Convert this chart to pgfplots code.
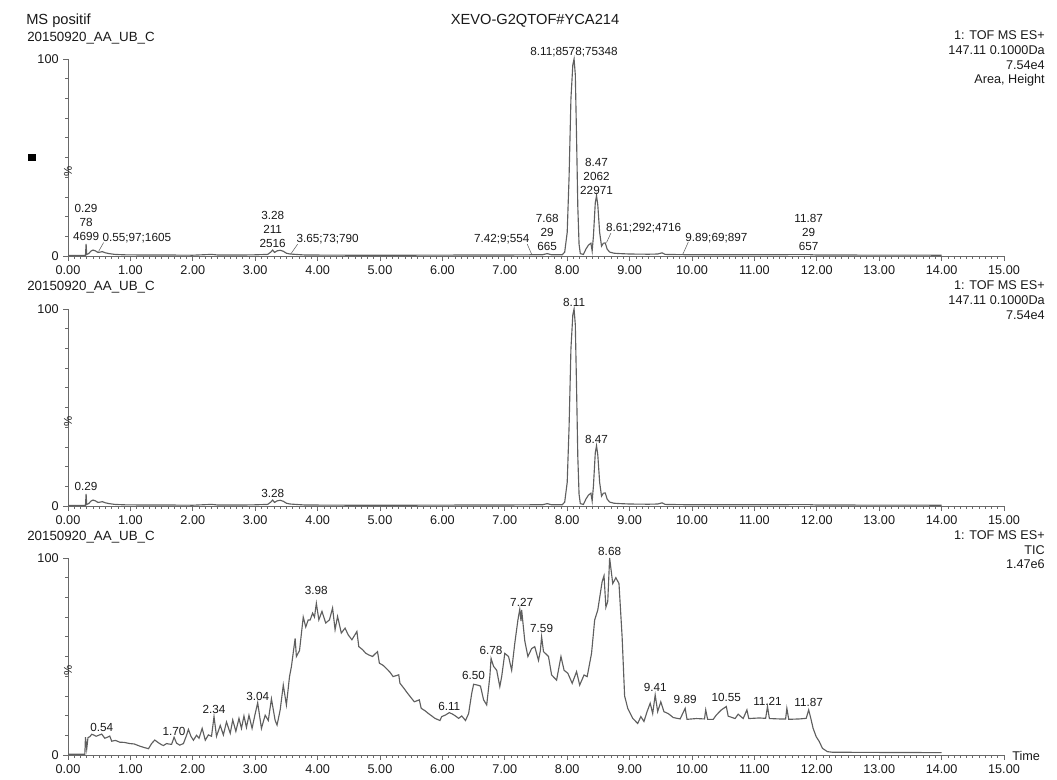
\documentclass[border=0pt]{standalone}
\usepackage{fontspec}
\setmainfont{Liberation Sans}
\usepackage{pgfplots}
\usepackage{pgfplotstable}
\pgfplotsset{compat=1.18}
\definecolor{trace}{RGB}{95,95,95}
\definecolor{axc}{RGB}{105,105,105}
\definecolor{txt}{RGB}{25,25,25}
\newcommand\pk{\fontsize{8.8}{10.5}\selectfont}
\newcommand\infofont{\fontsize{9.5}{11}\selectfont}

\pgfplotstableread{
x y
0.00 0.3
0.28 0.3
0.29 6.1
0.30 0.8
0.33 1.2
0.37 2.5
0.40 3.0
0.44 2.6
0.48 1.8
0.52 2.0
0.55 2.2
0.60 1.6
0.66 1.2
0.75 0.8
0.90 0.6
1.20 0.5
1.60 0.5
2.00 0.4
2.30 0.8
2.40 0.5
2.80 0.5
3.00 0.6
3.20 0.8
3.25 2.0
3.28 3.0
3.31 1.8
3.35 2.6
3.40 2.9
3.45 2.4
3.50 1.4
3.56 1.0
3.65 0.8
3.80 0.5
4.50 0.4
5.50 0.4
6.50 0.5
7.00 0.5
7.42 0.6
7.60 0.6
7.68 1.2
7.75 0.6
7.92 0.6
7.96 2
8.00 12
8.03 40
8.06 80
8.09 97
8.11 100
8.13 92
8.15 60
8.17 25
8.19 6
8.21 1.2
8.26 0.8
8.30 3.5
8.34 5.5
8.38 6.5
8.40 2.5
8.42 10
8.45 27
8.47 30.6
8.49 26
8.52 12
8.55 5
8.58 6.5
8.61 6.6
8.64 3.5
8.68 2
8.75 1.4
8.85 1.2
9.00 1.0
9.30 0.9
9.45 1.0
9.52 1.6
9.57 0.8
10.0 0.6
11.0 0.6
11.87 0.7
12.0 0.5
14.0 0.4
}\eic

\pgfplotstableread{
x y
0.00 0.4
0.27 0.4
0.28 9.0
0.30 3.0
0.32 8.8
0.35 9.3
0.38 10.5
0.41 10.2
0.45 9.5
0.49 10.0
0.54 10.6
0.59 8.5
0.63 9.0
0.67 9.6
0.70 7.0
0.76 7.4
0.83 6.5
0.90 6.4
0.99 5.8
1.06 5.6
1.15 4.5
1.22 3.8
1.29 3.2
1.34 5.8
1.39 7.6
1.45 6.2
1.50 5.2
1.53 4.8
1.58 5.8
1.61 5.6
1.66 5.4
1.70 9.0
1.74 6.0
1.79 5.0
1.85 5.8
1.90 10.0
1.93 13.0
1.97 9.5
2.01 7.5
2.06 10.0
2.10 8.5
2.15 13.5
2.20 7.5
2.25 10.2
2.30 9.5
2.34 19.5
2.38 9.5
2.44 15.0
2.49 10.2
2.54 16.8
2.60 11.0
2.64 17.8
2.69 12.0
2.74 18.6
2.78 13.5
2.82 19.8
2.86 14.0
2.90 20.2
2.95 13.5
3.00 21.0
3.04 26.5
3.10 13.5
3.16 20.2
3.21 17.5
3.26 28.5
3.32 17.5
3.35 15.2
3.40 22.8
3.45 35.5
3.50 25.4
3.55 39.8
3.58 44.8
3.64 59.2
3.66 50.0
3.71 53.0
3.77 70.0
3.81 65.0
3.85 68.6
3.88 68.5
3.92 72.0
3.95 70.0
3.98 77.0
4.02 68.6
4.07 72.9
4.13 67.0
4.19 68.6
4.24 74.6
4.28 63.6
4.32 70.3
4.38 61.9
4.44 64.4
4.49 61.0
4.55 58.5
4.63 62.7
4.66 55.0
4.72 53.5
4.77 51.7
4.82 50.8
4.88 50.0
4.96 52.5
4.99 46.6
5.05 45.5
5.10 44.0
5.16 42.0
5.21 39.8
5.30 40.7
5.32 36.4
5.38 34.0
5.44 31.4
5.50 29.0
5.55 27.0
5.63 28.0
5.66 23.7
5.72 22.5
5.77 21.2
5.83 19.8
5.88 18.6
5.96 17.5
5.99 19.5
6.05 20.3
6.11 21.5
6.16 20.8
6.21 19.8
6.26 18.6
6.31 19.8
6.37 17.5
6.42 21.0
6.47 31.3
6.50 35.9
6.56 35.5
6.61 35.0
6.66 28.0
6.71 25.4
6.76 39.8
6.78 49.0
6.82 45.0
6.87 43.0
6.92 34.7
6.95 39.8
7.00 51.6
7.06 50.0
7.11 43.0
7.16 56.7
7.21 68.5
7.24 74.0
7.26 68.0
7.27 73.6
7.32 58.0
7.37 50.0
7.43 54.0
7.48 55.0
7.54 48.0
7.57 53.0
7.59 60.0
7.62 52.5
7.70 50.0
7.75 40.6
7.83 38.0
7.90 50.0
7.95 43.0
8.01 41.5
8.08 36.4
8.15 42.3
8.20 35.5
8.27 40.6
8.32 39.8
8.39 51.6
8.44 68.5
8.49 73.6
8.56 88.0
8.59 91.0
8.62 75.0
8.65 78.0
8.68 100.0
8.73 87.0
8.78 90.0
8.83 87.0
8.88 60.0
8.92 30.0
8.97 23.7
9.05 18.6
9.13 16.0
9.18 19.5
9.23 17.0
9.28 22.0
9.33 26.3
9.37 21.0
9.41 30.5
9.45 22.0
9.50 27.0
9.55 22.0
9.62 21.0
9.70 19.0
9.81 18.3
9.89 23.7
9.92 18.1
10.07 18.5
10.20 18.3
10.22 22.9
10.25 18.1
10.34 18.1
10.39 20.3
10.47 22.9
10.55 24.6
10.58 19.7
10.69 18.5
10.74 20.7
10.82 18.5
10.88 22.9
10.91 18.5
11.08 18.8
11.18 18.6
11.21 24.6
11.24 18.5
11.40 18.3
11.50 18.3
11.52 23.7
11.55 18.1
11.72 18.3
11.83 18.6
11.87 22.9
11.91 17.8
11.94 13.6
11.99 9.3
12.04 6.8
12.09 3.4
12.17 1.7
12.25 1.4
13.00 1.3
14.00 1.2
}\tic

\pgfplotsset{chrom/.style={
  scale only axis, width=702pt, height=147.75pt,
  xmin=0, xmax=15, ymin=0, ymax=100,
  axis x line=bottom, axis y line=left,
  axis line style={-, axc, line width=0.6pt},
  xtick={0,1,...,15},
  xticklabels={0.00,1.00,2.00,3.00,4.00,5.00,6.00,7.00,8.00,9.00,10.00,11.00,12.00,13.00,14.00,15.00},
  minor x tick num=9,
  ytick={0,100}, yticklabels={0,100},
  minor y tick num=9,
  tick align=outside,
  major tick length=3.5pt, minor tick length=2pt,
  every tick/.style={axc, line width=0.5pt},
  ticklabel style={font=\fontsize{9.5}{10}\selectfont, text=txt},
  clip=false, anchor=south west,
}}

\begin{document}
\begin{tikzpicture}
\useasboundingbox (0,0) rectangle (792.75pt,585pt);
% header texts
\node[anchor=base west, font=\fontsize{11}{12}\selectfont, text=txt, inner sep=0pt] at (19.5pt,566.25pt) {MS positif};
\node[anchor=base, font=\fontsize{11}{12}\selectfont, text=txt, inner sep=0pt] at (401.25pt,566.25pt) {XEVO-G2QTOF\#YCA214};

% ---------- panel 1 ----------
\begin{axis}[chrom, at={(51pt,393pt)}]
\addplot[trace, line width=0.85pt] table[x=x,y=y] {\eic};
\node[rotate=90, font=\fontsize{8.5}{9}\selectfont, text=txt, xshift=-10.5pt] at (axis cs:0,50) {\%};
\node[fill=black, inner sep=0pt, minimum size=5.5pt, xshift=-27pt] at (axis cs:0,50) {};
\begin{scope}[every node/.style={text=txt, inner sep=0pt, font=\pk, align=center}]
\node[anchor=base] at (axis cs:8.11,102) {8.11;8578;75348};
\node[anchor=south] at (axis cs:0.29,7.6) {0.29\\78\\4699};
\node[anchor=base west] at (axis cs:0.55,7.6) {0.55;97;1605};
\node[anchor=south] at (axis cs:3.28,4.1) {3.28\\211\\2516};
\node[anchor=base west] at (axis cs:3.66,6.6) {3.65;73;790};
\node[anchor=base east] at (axis cs:7.40,6.6) {7.42;9;554};
\node[anchor=south] at (axis cs:7.68,2.5) {7.68\\29\\665};
\node[anchor=south] at (axis cs:8.47,31) {8.47\\2062\\22971};
\node[anchor=base west] at (axis cs:8.62,12.2) {8.61;292;4716};
\node[anchor=base west] at (axis cs:9.89,7.6) {9.89;69;897};
\node[anchor=south] at (axis cs:11.87,2.5) {11.87\\29\\657};
\end{scope}
\draw[trace, line width=0.4pt] (axis cs:0.49,2.3) -- (axis cs:0.57,6.8);
\draw[trace, line width=0.4pt] (axis cs:3.57,1.0) -- (axis cs:3.68,6.0);
\draw[trace, line width=0.4pt] (axis cs:7.36,6.0) -- (axis cs:7.43,0.9);
\draw[trace, line width=0.4pt] (axis cs:8.63,6.8) -- (axis cs:8.70,11.6);
\draw[trace, line width=0.4pt] (axis cs:9.85,0.7) -- (axis cs:9.94,7.0);
\end{axis}
\node[anchor=base west, font=\fontsize{10}{11}\selectfont, text=txt, inner sep=0pt] at (20.25pt,553.5pt) {20150920\_AA\_UB\_C};
\begin{scope}[every node/.style={anchor=base east, font=\infofont, text=txt, inner sep=0pt}]
\node at (783.75pt,555pt) {1: TOF MS ES+};
\node at (783.75pt,543.75pt) {147.11 0.1000Da};
\node at (783.75pt,532.875pt) {7.54e4};
\node at (783.75pt,522pt) {Area, Height};
\end{scope}

% ---------- panel 2 ----------
\begin{axis}[chrom, at={(51pt,205.5pt)}]
\addplot[trace, line width=0.85pt] table[x=x,y=y] {\eic};
\node[rotate=90, font=\fontsize{8.5}{9}\selectfont, text=txt, xshift=-10.5pt] at (axis cs:0,50) {\%};
\begin{scope}[every node/.style={text=txt, inner sep=0pt, font=\pk}]
\node[anchor=south] at (axis cs:0.29,7.6) {0.29};
\node[anchor=south] at (axis cs:3.28,4.0) {3.28};
\node[anchor=south] at (axis cs:8.11,101) {8.11};
\node[anchor=south] at (axis cs:8.47,31.3) {8.47};
\end{scope}
\end{axis}
\node[anchor=base west, font=\fontsize{10}{11}\selectfont, text=txt, inner sep=0pt] at (20.25pt,366.75pt) {20150920\_AA\_UB\_C};
\begin{scope}[every node/.style={anchor=base east, font=\infofont, text=txt, inner sep=0pt}]
\node at (783.75pt,367.5pt) {1: TOF MS ES+};
\node at (783.75pt,356.25pt) {147.11 0.1000Da};
\node at (783.75pt,345.375pt) {7.54e4};
\end{scope}

% ---------- panel 3 ----------
\begin{axis}[chrom, at={(51pt,18.75pt)}]
\addplot[trace, line width=0.85pt] table[x=x,y=y] {\tic};
\node[rotate=90, font=\fontsize{8.5}{9}\selectfont, text=txt, xshift=-10.5pt] at (axis cs:0,50) {\%};
\begin{scope}[every node/.style={text=txt, inner sep=0pt, font=\pk, anchor=south}]
\node at (axis cs:0.54,11.7) {0.54};
\node at (axis cs:1.70,9.6) {1.70};
\node at (axis cs:2.34,20.8) {2.34};
\node at (axis cs:3.04,27.4) {3.04};
\node at (axis cs:3.98,81.5) {3.98};
\node at (axis cs:6.11,22.3) {6.11};
\node at (axis cs:6.50,38) {6.50};
\node at (axis cs:6.78,50.8) {6.78};
\node at (axis cs:7.27,75) {7.27};
\node at (axis cs:7.59,62) {7.59};
\node at (axis cs:8.68,101) {8.68};
\node at (axis cs:9.41,32) {9.41};
\node at (axis cs:9.89,26) {9.89};
\node at (axis cs:10.55,27) {10.55};
\node at (axis cs:11.21,25) {11.21};
\node at (axis cs:11.87,24.4) {11.87};
\end{scope}
\end{axis}
\node[anchor=base west, font=\fontsize{10}{11}\selectfont, text=txt, inner sep=0pt] at (20.25pt,179.25pt) {20150920\_AA\_UB\_C};
\begin{scope}[every node/.style={anchor=base east, font=\infofont, text=txt, inner sep=0pt}]
\node at (783.75pt,180pt) {1: TOF MS ES+};
\node at (783.75pt,169.125pt) {TIC};
\node at (783.75pt,158.25pt) {1.47e6};
\end{scope}
\node[anchor=base west, font=\infofont, text=txt, inner sep=0pt] at (759pt,14.25pt) {Time};
\end{tikzpicture}
\end{document}
